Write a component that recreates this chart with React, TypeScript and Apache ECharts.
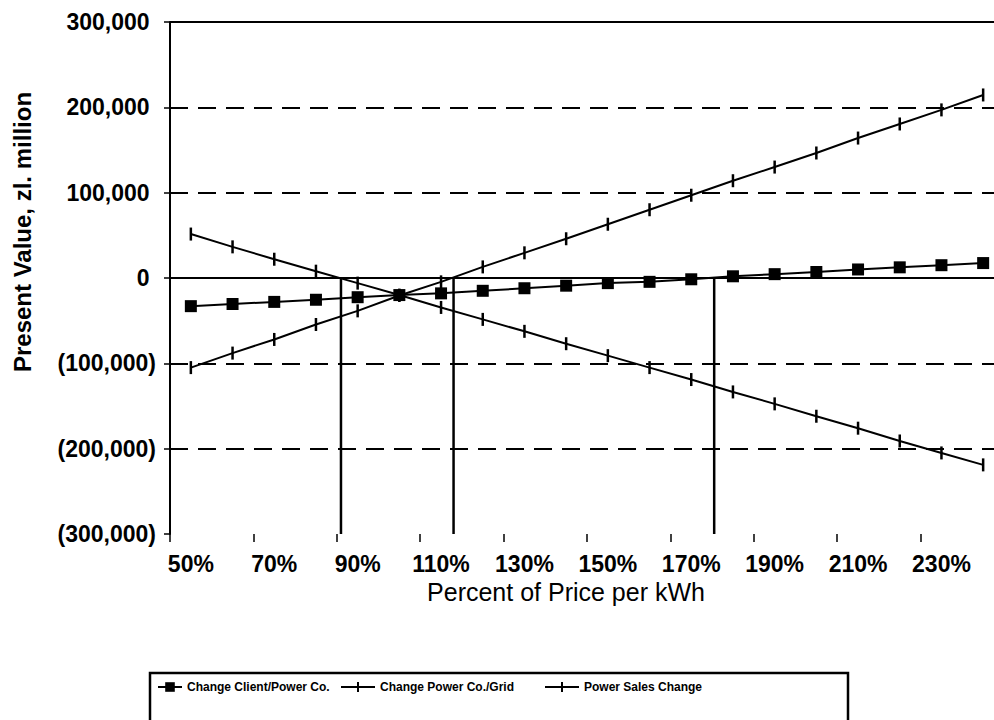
import React, { useEffect, useRef } from "react";
import * as echarts from "echarts";

const categories = ["50%", "60%", "70%", "80%", "90%", "100%", "110%", "120%", "130%", "140%", "150%", "160%", "170%", "180%", "190%", "200%", "210%", "220%", "230%", "240%"];
const clientPowerCo = [-33000, -30500, -28000, -25500, -22500, -20000, -18000, -15000, -12000, -9000, -6000, -4500, -1500, 2000, 4500, 7000, 10000, 12500, 15000, 17500];
const powerCoGrid = [-105000, -88000, -72000, -54500, -38500, -20500, -4500, 13000, 29500, 46000, 63000, 80000, 97000, 114000, 130000, 146500, 164000, 180500, 197000, 214500];
const powerSales = [51500, 36500, 22000, 8000, -6000, -20000, -34500, -48500, -62500, -77000, -91000, -105000, -119000, -133500, -147500, -162000, -176000, -191000, -205000, -219000];
const breakEvenPercents = [86, 113, 175.5];
const seriesNames = ["Change Client/Power Co.", "Change Power Co./Grid", "Power Sales Change"];
const dashedLevels = [200000, 100000, -100000, -200000];
const solidLevels = [300000, 0];

const FONT = "Liberation Sans, Arial, sans-serif";
const PLUS_ICON = "path://M0,5 L34,5 L34,7 L0,7 Z M16,1 L18,1 L18,11 L16,11 Z";

export default function App() {
  const ref = useRef<HTMLDivElement>(null);
  useEffect(() => {
    if (!ref.current) return;
    const chart = echarts.init(ref.current, null, { renderer: "svg" });
    const fmt = (v: number) => {
      const s = Math.abs(v).toLocaleString("en-US");
      return v < 0 ? `(${s})` : `${s}\u00A0`;
    };
    const breakSeries = breakEvenPercents.map((p) => ({
      type: "line",
      name: "be" + p,
      xAxisIndex: 1,
      yAxisIndex: 0,
      data: [[p, 0], [p, -300000]],
      symbol: "none",
      lineStyle: { color: "#000", width: 2.5 },
      silent: true,
      z: 1,
    }));
    const legendText = { fontFamily: FONT, fontSize: 12, fontWeight: "bold", color: "#000" };
    chart.setOption({
      animation: false,
      backgroundColor: "#fff",
      textStyle: { fontFamily: FONT, color: "#000" },
      grid: { left: 170, top: 22, width: 834, height: 512, containLabel: false },
      xAxis: [
        {
          type: "category",
          data: categories,
          boundaryGap: true,
          position: "bottom",
          axisLine: { show: false, onZero: false },
          axisTick: { show: true, length: 8, lineStyle: { color: "#000", width: 1.5 } },
          axisLabel: {
            interval: 1,
            color: "#000",
            fontSize: 23,
            fontWeight: "bold",
            fontFamily: FONT,
            margin: 18,
            formatter: (v: string, i: number) => (i >= 19 ? "" : v),
          },
          splitLine: { show: false },
        },
        {
          type: "value",
          min: 45,
          max: 245,
          show: false,
        },
      ],
      yAxis: {
        type: "value",
        min: -300000,
        max: 300000,
        interval: 100000,
        axisLine: { show: true, lineStyle: { color: "#000", width: 2 } },
        axisTick: { show: true, length: 6, lineStyle: { color: "#000", width: 1.5 } },
        axisLabel: {
          color: "#000",
          fontSize: 23,
          fontWeight: "bold",
          fontFamily: FONT,
          margin: 14,
          formatter: fmt,
        },
        splitLine: { show: false },
      },
      legend: [
        {
          data: [{ name: seriesNames[0] }],
          left: 152,
          top: 676,
          itemWidth: 24,
          itemHeight: 12,
          textStyle: legendText,
        },
        {
          data: [{ name: seriesNames[1], icon: PLUS_ICON }],
          left: 336,
          top: 676,
          itemWidth: 34,
          itemHeight: 12,
          textStyle: legendText,
        },
        {
          data: [{ name: seriesNames[2], icon: PLUS_ICON }],
          left: 540,
          top: 676,
          itemWidth: 34,
          itemHeight: 12,
          textStyle: legendText,
        },
      ],
      graphic: [
        {
          type: "text",
          x: 22,
          y: 232,
          rotation: Math.PI / 2,
          style: {
            text: "Present Value, zl. million",
            font: `bold 24px ${FONT}`,
            fill: "#000",
            align: "center",
            verticalAlign: "middle",
          },
        },
        {
          type: "text",
          x: 566,
          y: 592,
          style: {
            text: "Percent of Price per kWh",
            font: `25px ${FONT}`,
            fill: "#000",
            align: "center",
            verticalAlign: "middle",
          },
        },
        {
          type: "rect",
          shape: { x: 150, y: 673, width: 698, height: 80 },
          style: { fill: "none", stroke: "#000", lineWidth: 2.5 },
        },
      ],
      series: [
        {
          type: "line",
          name: seriesNames[0],
          data: clientPowerCo,
          symbol: "rect",
          symbolSize: 12,
          lineStyle: { color: "#000", width: 2 },
          itemStyle: { color: "#000" },
          z: 3,
          markLine: {
            silent: true,
            symbol: ["none", "none"],
            label: { show: false },
            data: [
              ...solidLevels.map((v) => ({ yAxis: v, lineStyle: { color: "#000", width: 2, type: "solid" } })),
              ...dashedLevels.map((v) => ({ yAxis: v, lineStyle: { color: "#000", width: 2, type: [18, 10] } })),
            ],
          },
        },
        {
          type: "line",
          name: seriesNames[1],
          data: powerCoGrid,
          symbol: "rect",
          symbolSize: [2.5, 13],
          lineStyle: { color: "#000", width: 2 },
          itemStyle: { color: "#000" },
          z: 3,
        },
        {
          type: "line",
          name: seriesNames[2],
          data: powerSales,
          symbol: "rect",
          symbolSize: [2.5, 13],
          lineStyle: { color: "#000", width: 2 },
          itemStyle: { color: "#000" },
          z: 3,
        },
        ...breakSeries,
      ],
    });
    return () => chart.dispose();
  }, []);
  return (
    <div style={{ width: 994, height: 720, position: "absolute", left: 0, top: 0, overflow: "hidden", background: "#fff" }}>
      <div ref={ref} style={{ width: 1012, height: 720 }} />
    </div>
  );
}
